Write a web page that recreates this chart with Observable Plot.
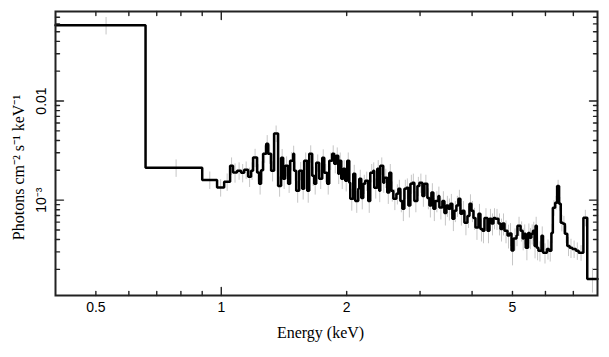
<!DOCTYPE html>
<html><head><meta charset="utf-8">
<script src="https://cdn.jsdelivr.net/npm/d3@7"></script>
<script src="https://cdn.jsdelivr.net/npm/@observablehq/plot@0.6"></script>
<style>body{margin:0;background:#fff;} svg{display:block}</style>
</head><body>
<script>
// Bin edges (keV)
const edges = [
 0.4, 0.658, 0.9, 0.977, 1.016, 1.050, 1.067, 1.091, 1.116, 1.135,
 1.160, 1.179, 1.192, 1.219, 1.233, 1.246, 1.260, 1.282, 1.296, 1.317,
 1.339, 1.369, 1.392, 1.408, 1.423, 1.447, 1.463, 1.488, 1.496, 1.513,
 1.538, 1.564, 1.581, 1.608, 1.626, 1.653, 1.671, 1.690, 1.718, 1.747,
 1.767, 1.796, 1.816, 1.846, 1.867, 1.888, 1.909, 1.919, 1.941, 1.962,
 1.984, 2.006, 2.029, 2.040, 2.074, 2.097, 2.132, 2.144, 2.168, 2.192,
 2.216, 2.253, 2.278, 2.316, 2.329, 2.368, 2.394, 2.408, 2.448, 2.462,
 2.503, 2.531, 2.559, 2.588, 2.632, 2.661, 2.691, 2.720, 2.751, 2.781,
 2.812, 2.844, 2.875, 2.907, 2.956, 2.989, 3.039, 3.073, 3.124, 3.159,
 3.194, 3.229, 3.265, 3.320, 3.338, 3.394, 3.432, 3.470, 3.509, 3.548,
 3.587, 3.627, 3.667, 3.708, 3.750, 3.791, 3.834, 3.898, 3.942, 3.986,
 4.030, 4.075, 4.143, 4.189, 4.236, 4.283, 4.355, 4.403, 4.452, 4.502,
 4.552, 4.628, 4.680, 4.732, 4.785, 4.865, 4.919, 4.974, 5.029, 5.113,
 5.14, 5.23, 5.29, 5.32, 5.38, 5.45, 5.50, 5.55, 5.60, 5.65,
 5.68, 5.72, 5.77, 5.87, 5.92, 6.05, 6.12, 6.20, 6.25, 6.33,
 6.40, 6.47, 6.53, 6.61, 6.68, 6.77, 6.86, 6.96, 7.10, 7.21,
 7.40, 7.56, 8.0
];
// Flux per bin (photons cm^-2 s^-1 keV^-1)
const flux = [
 0.058, 0.00212, 0.00160, 0.00134, 0.00153, 0.00222, 0.00190, 0.00198, 0.00189, 0.00202,
 0.00172, 0.00198, 0.00269, 0.00190, 0.00146, 0.00200, 0.00294, 0.00370, 0.00294, 0.00198,
 0.00470, 0.00139, 0.00268, 0.00164, 0.00222, 0.00146, 0.00249, 0.00294, 0.00198, 0.00124,
 0.00198, 0.00130, 0.00249, 0.00124, 0.00294, 0.00176, 0.00146, 0.00238, 0.00164, 0.00268,
 0.00189, 0.00146, 0.00249, 0.00294, 0.00233, 0.00280, 0.00184, 0.00249, 0.00164, 0.00207,
 0.00157, 0.00249, 0.00150, 0.00103, 0.00184, 0.00098, 0.00130, 0.00164, 0.00105, 0.00146,
 0.00157, 0.00098, 0.00189, 0.00198, 0.00133, 0.00207, 0.00124, 0.00222, 0.00150, 0.00168,
 0.00119, 0.00189, 0.00124, 0.00103, 0.00116, 0.00130, 0.00098, 0.00082, 0.00130, 0.00133,
 0.00088, 0.00146, 0.00150, 0.00098, 0.00139, 0.00150, 0.00110, 0.00146, 0.00105, 0.00088,
 0.00119, 0.00082, 0.00098, 0.00110, 0.00084, 0.00098, 0.00074, 0.00088, 0.00082, 0.00092,
 0.00065, 0.00078, 0.00088, 0.00103, 0.00073, 0.00078, 0.00059, 0.00069, 0.00092, 0.00078,
 0.00066, 0.00053, 0.00073, 0.00051, 0.00049, 0.00066, 0.00049, 0.00065, 0.00058, 0.00066,
 0.00065, 0.00058, 0.00051, 0.00058, 0.00049, 0.00044, 0.00046, 0.00031, 0.00041, 0.00044,
 0.00055, 0.00049, 0.00041, 0.000457, 0.00033, 0.000467, 0.000416, 0.000457, 0.00049, 0.000345,
 0.00055, 0.00033, 0.000308, 0.000436, 0.000294, 0.000322, 0.000308, 0.000467, 0.000836, 0.00094,
 0.00139, 0.000918, 0.00059, 0.000576, 0.000457, 0.000345, 0.00033, 0.000322, 0.000308, 0.000294,
 0.000663, 0.00016
];
// Relative 1-sigma error per bin
const relErr = [
 0.2, 0.2, 0.2, 0.2, 0.2,
 0.2, 0.22, 0.2, 0.21, 0.2, 0.22, 0.2, 0.21, 0.2, 0.23, 0.22, 0.2, 0.21, 0.22, 0.23,
 0.19, 0.23, 0.21, 0.22, 0.23, 0.2, 0.21, 0.19, 0.22, 0.25, 0.21, 0.23, 0.2, 0.25, 0.2, 0.22, 0.23, 0.2, 0.22, 0.2,
 0.21, 0.23, 0.2, 0.2, 0.21, 0.2, 0.22, 0.2, 0.22, 0.21, 0.23, 0.2, 0.22, 0.25, 0.22, 0.25, 0.23, 0.22, 0.24, 0.22,
 0.22, 0.25, 0.21, 0.2, 0.23, 0.21, 0.24, 0.2, 0.22, 0.22, 0.24, 0.21, 0.23, 0.24, 0.23, 0.22, 0.24, 0.26, 0.22, 0.23,
 0.25, 0.22, 0.22, 0.24, 0.22, 0.22, 0.23, 0.22, 0.24, 0.25, 0.23, 0.26, 0.24, 0.23, 0.25, 0.24, 0.26, 0.24, 0.25, 0.24,
 0.26, 0.24, 0.24, 0.22, 0.25, 0.24, 0.26, 0.25, 0.23, 0.24, 0.25, 0.26, 0.24, 0.26, 0.26, 0.24, 0.26, 0.24, 0.25, 0.24,
 0.24, 0.25, 0.26, 0.25, 0.26, 0.27, 0.26, 0.3, 0.25, 0.23, 0.22, 0.23, 0.25, 0.23, 0.26, 0.23, 0.24, 0.23, 0.22, 0.26,
 0.22, 0.26, 0.23, 0.23, 0.23, 0.23, 0.23, 0.22, 0.18, 0.16, 0.14, 0.16, 0.19, 0.19, 0.2, 0.22, 0.22, 0.2, 0.2, 0.18, 0.19, 0.28
];
const xMajorTicks = [1];
const xMinorTicks = [0.5, 0.6, 0.7, 0.8, 0.9, 2, 3, 4, 5, 6, 7];
const xTickValues = [0.5, 1, 2, 5];
const xTickLabels = ["0.5", "1", "2", "5"];
const yMajorTicks = [1e-3, 1e-2];
const yMinorTicks = [2e-4, 3e-4, 4e-4, 5e-4, 6e-4, 7e-4, 8e-4, 9e-4,
  2e-3, 3e-3, 4e-3, 5e-3, 6e-3, 7e-3, 8e-3, 9e-3, 2e-2, 3e-2, 4e-2, 5e-2, 6e-2, 7e-2];
const yTickValues = [1e-3, 1e-2];
const yTickLabels = ["10\u207B\u00B3", "0.01"];
const xTitle = "Energy (keV)";
const yTitle = "Photons cm\u207B\u00B2 s\u207B\u00B9 keV\u207B\u00B9";

const n = Math.min(flux.length, edges.length - 1);
const bins = d3.range(n).map(i => ({lo: edges[i], hi: edges[i + 1], v: flux[i], e: relErr[i] ?? 0.22}));
const stepPts = bins.map(b => ({x: b.lo, y: b.v})).concat([{x: bins[n - 1].hi, y: bins[n - 1].v}]);
const xLab = xTickValues.map((v, i) => ({v, t: xTickLabels[i]}));
const yLab = yTickValues.map((v, i) => ({v, t: yTickLabels[i]}));

const tickShape = {draw(c, l) { c.moveTo(0, 0); c.lineTo(0, -l); }};
const tk = (data, ch, anchor, rot, len) => Plot.vector(data, {
  [ch]: d => d, frameAnchor: anchor, rotate: rot, length: len, anchor: "start",
  shape: tickShape, stroke: "#222", strokeWidth: 1.4
});
const serif = "'Liberation Serif', 'Times New Roman', serif";

const chart = Plot.plot({
  width: 609, height: 357,
  marginLeft: 55, marginRight: 12, marginTop: 11, marginBottom: 62,
  x: {type: "log", domain: [0.4, 8], axis: null},
  y: {type: "log", domain: [1.09e-4, 0.08], axis: null},
  style: {background: "#fff", color: "#000", fontFamily: "'Liberation Sans', Arial, sans-serif", overflow: "visible"},
  marks: [
    Plot.ruleX(bins, {x: d => (d.lo + d.hi) / 2, y1: d => d.v * (1 - d.e), y2: d => d.v * (1 + d.e), stroke: "#c6c6c6", strokeWidth: 1}),
    Plot.line(stepPts, {x: "x", y: "y", curve: "step-after", stroke: "#000", strokeWidth: 2.5, strokeLinejoin: "miter"}),
    Plot.frame({stroke: "#222", strokeWidth: 2}),
    tk(xMajorTicks, "x", "bottom", 0, 8), tk(xMinorTicks, "x", "bottom", 0, 4),
    tk(xMajorTicks, "x", "top", 180, 8), tk(xMinorTicks, "x", "top", 180, 4),
    tk(yMajorTicks, "y", "left", 90, 8), tk(yMinorTicks, "y", "left", 90, 4),
    tk(yMajorTicks, "y", "right", -90, 8), tk(yMinorTicks, "y", "right", -90, 4),
    Plot.text(xLab, {x: "v", text: "t", frameAnchor: "bottom", dy: 16, fontSize: 14}),
    Plot.text(yLab, {y: "v", text: "t", frameAnchor: "left", textAnchor: "middle", dx: -14, rotate: -90, fontSize: 14}),
    Plot.text([xTitle], {text: d => d, frameAnchor: "bottom", dx: -6, dy: 42, fontSize: 16, fontFamily: serif}),
    Plot.text([yTitle], {text: d => d, frameAnchor: "left", textAnchor: "middle", dx: -37, dy: 14, rotate: -90, fontSize: 16, fontFamily: serif})
  ]
});
document.body.append(chart);
</script>
</body></html>
